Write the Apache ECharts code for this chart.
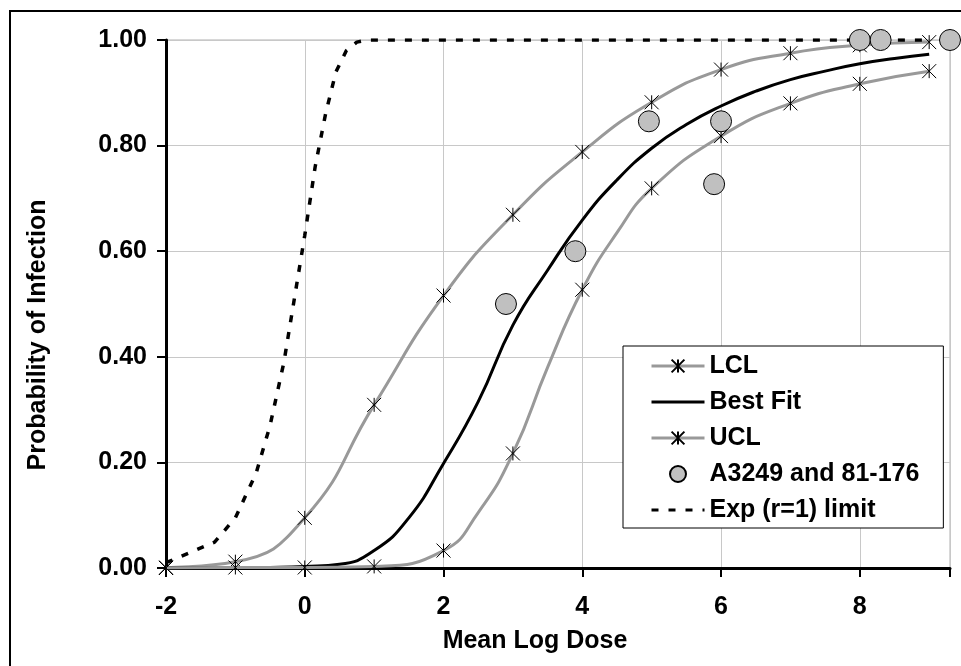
<!DOCTYPE html>
<html>
<head>
<meta charset="utf-8">
<script src="https://cdn.jsdelivr.net/npm/echarts@6/dist/echarts.min.js"></script>
<style>
html,body{margin:0;padding:0;background:#fff;}
#chart{width:961px;height:666px;}
</style>
</head>
<body>
<div id="chart"></div>
<script>
// ---- data ----
// confidence-limit curves (markers at integer doses; half-step points are unmarked curve readings)
const lclX = [-2, -1, 0, 1, 2, 3, 4, 5, 6, 7, 8, 9];
const lclY = [0.001, 0.012, 0.095, 0.309, 0.516, 0.669, 0.788, 0.882, 0.944, 0.975, 0.990, 0.996];
const uclX = [-2, -1, 0, 1, 2, 2.5, 3, 3.5, 4, 4.5, 5, 6, 7, 8, 9];
const uclY = [0.000, 0.001, 0.001, 0.003, 0.033, 0.105, 0.217, 0.38, 0.527, 0.635, 0.719, 0.818, 0.880, 0.917, 0.941];
const markedDoses = [-2, -1, 0, 1, 2, 3, 4, 5, 6, 7, 8, 9];

const fitX = [-2, -1.5, -1, -0.5, 0, 0.5, 1, 1.5, 2, 2.5, 3, 3.5, 4, 4.5, 5, 5.5, 6, 6.5, 7, 7.5, 8, 8.5, 9];
const fitY = [0, 0, 0, 0.001, 0.003, 0.007, 0.033, 0.095, 0.198, 0.315, 0.46, 0.564, 0.659, 0.735, 0.795, 0.84, 0.875, 0.903, 0.925, 0.941, 0.955, 0.965, 0.973];

const expX = [-2, -1.3, -1, -0.7, -0.5, -0.3, -0.15, 0, 0.15, 0.3, 0.45, 0.6, 0.75, 0.9, 1, 9];
const expY = [0.010, 0.049, 0.095, 0.18, 0.27, 0.39, 0.51, 0.63, 0.76, 0.86, 0.94, 0.98, 0.996, 1, 1, 1];

const obsX = [2.9, 3.9, 4.96, 5.9, 6.0, 8.0, 8.3, 9.3];
const obsY = [0.50, 0.60, 0.846, 0.727, 0.846, 1.0, 1.0, 1.0];

const xTicks = [-2, 0, 2, 4, 6, 8];

const seriesNames = ['LCL', 'Best Fit', 'UCL', 'A3249 and 81-176', 'Exp (r=1) limit'];
const xTitle = 'Mean Log Dose';
const yTitle = 'Probability of Infection';

// ---- build ----
const pair = (xs, ys) => xs.map((x, i) => [x, ys[i]]);
const markedPair = (xs, ys) => xs.map((x, i) =>
  markedDoses.indexOf(x) >= 0 ? {value: [x, ys[i]]} : {value: [x, ys[i]], symbol: 'none'});
const FONT = '"Liberation Sans", Arial, sans-serif';
const STAR = 'path://M-1,-1L1,1M-1,1L1,-1M0,-1L0,1';
const GRAY = '#999999';
const CLEAR = 'rgba(0,0,0,0)';

const chart = echarts.init(document.getElementById('chart'), null, {renderer: 'canvas'});
chart.setOption({
  animation: false,
  backgroundColor: '#ffffff',
  grid: {
    left: 166, right: 11, top: 40, bottom: 98,
    show: true, borderColor: '#b0b0b0', borderWidth: 1, backgroundColor: 'transparent'
  },
  xAxis: {
    type: 'value', min: -2, max: 9.3, interval: 2,
    axisLine: {show: true, onZero: false, lineStyle: {color: '#000', width: 3}},
    axisTick: {show: true, inside: false, length: 9, lineStyle: {color: '#000', width: 2}},
    axisLabel: {
      margin: 27, fontSize: 25, fontWeight: 'bold', fontFamily: FONT, color: '#000',
      formatter: v => (xTicks.indexOf(v) >= 0 ? String(v) : '')
    },
    splitLine: {show: true, lineStyle: {color: '#c8c8c8', width: 1}}
  },
  yAxis: {
    type: 'value', min: 0, max: 1, interval: 0.2,
    axisLine: {show: true, onZero: false, lineStyle: {color: '#000', width: 3}},
    axisTick: {show: true, inside: false, length: 9, lineStyle: {color: '#000', width: 2}},
    axisLabel: {
      margin: 19, fontSize: 25, fontWeight: 'bold', fontFamily: FONT, color: '#000',
      formatter: v => v.toFixed(2)
    },
    splitLine: {show: true, lineStyle: {color: '#c8c8c8', width: 1}}
  },
  legend: {
    orient: 'vertical', left: 623, top: 346,
    padding: [7, 24, 5, 27],
    backgroundColor: '#fff', borderColor: '#000', borderWidth: 1,
    itemWidth: 53, itemHeight: 16, itemGap: 10,
    lineStyle: {width: 3},
    textStyle: {fontSize: 25, fontWeight: 'bold', fontFamily: FONT, color: '#000', lineHeight: 26},
    data: [seriesNames[0], seriesNames[1], seriesNames[2], seriesNames[3], seriesNames[4]]
  },
  graphic: [
    {type: 'rect', z: -10, silent: true, shape: {x: 10, y: 11, width: 1000, height: 700},
     style: {fill: 'none', stroke: '#000', lineWidth: 2}},
    {type: 'text', x: 535, y: 641, silent: true,
     style: {text: xTitle, fontSize: 25, fontWeight: 'bold', fontFamily: FONT, fill: '#000',
             textAlign: 'center', textVerticalAlign: 'middle'}},
    {type: 'text', x: 38, y: 335, rotation: Math.PI / 2, silent: true,
     style: {text: yTitle, fontSize: 25, fontWeight: 'bold', fontFamily: FONT, fill: '#000',
             textAlign: 'center', textVerticalAlign: 'middle'}}
  ],
  series: [
    {
      name: seriesNames[0], type: 'line', smooth: true, data: markedPair(lclX, lclY),
      symbol: STAR, symbolSize: 14, showSymbol: true,
      lineStyle: {color: GRAY, width: 3},
      itemStyle: {color: CLEAR, borderColor: '#000', borderWidth: 1},
      z: 2
    },
    {
      name: seriesNames[1], type: 'line', smooth: true, data: pair(fitX, fitY),
      symbol: 'none', showSymbol: false,
      lineStyle: {color: '#000', width: 3},
      itemStyle: {color: CLEAR, borderColor: CLEAR, borderWidth: 0},
      z: 3
    },
    {
      name: seriesNames[2], type: 'line', smooth: true, data: markedPair(uclX, uclY),
      symbol: STAR, symbolSize: 14, showSymbol: true,
      lineStyle: {color: GRAY, width: 3},
      itemStyle: {color: CLEAR, borderColor: '#000', borderWidth: 1},
      z: 4
    },
    {
      name: seriesNames[4], type: 'line', smooth: false, data: pair(expX, expY),
      symbol: 'none', showSymbol: false,
      lineStyle: {color: '#000', width: 3.5, type: [7, 10], cap: 'butt'},
      itemStyle: {color: CLEAR, borderColor: CLEAR, borderWidth: 0},
      z: 5
    },
    {
      name: seriesNames[3], type: 'scatter', data: pair(obsX, obsY),
      symbol: 'circle', symbolSize: 21, clip: false,
      itemStyle: {color: '#c0c0c0', borderColor: '#000', borderWidth: 1, opacity: 1},
      z: 6
    }
  ]
});
</script>
</body>
</html>
